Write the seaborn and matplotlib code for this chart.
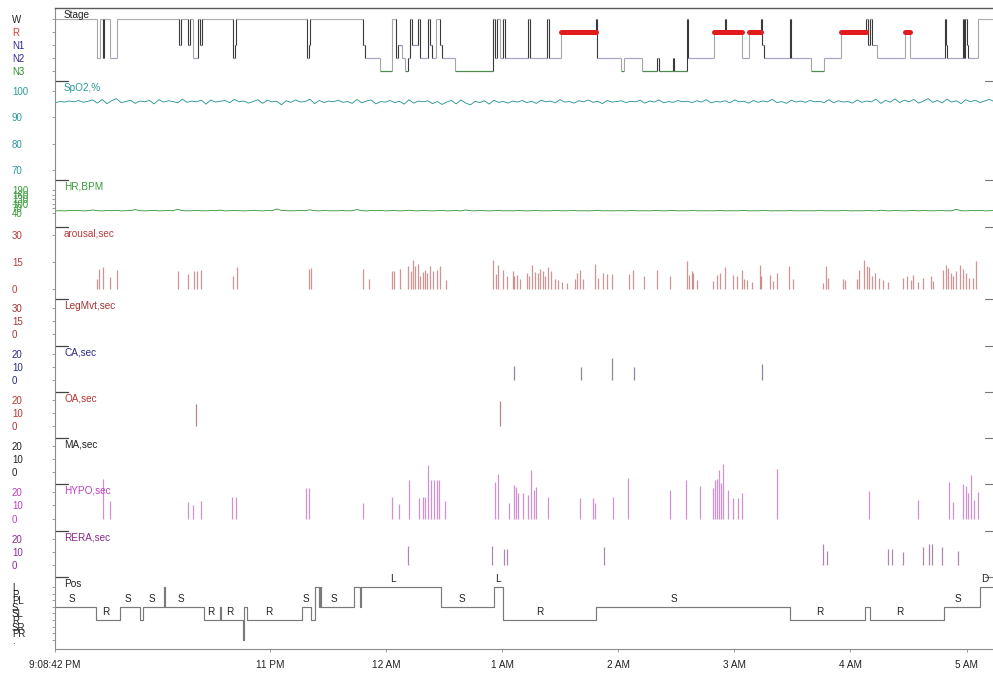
import numpy as np
import matplotlib
matplotlib.use("Agg")
import matplotlib.pyplot as plt
import seaborn as sns

# ---------------- time axis (minutes after lights-off, 9:08:42 PM) ----------------
START_H, START_M, START_S = 21, 8, 42
RECORD_END_MIN = 485.0
hour_clock = [23, 24, 25, 26, 27, 28, 29]          # 24 = midnight
hour_labels = ["11 PM", "12 AM", "1 AM", "2 AM", "3 AM", "4 AM", "5 AM"]
start_label = "9:08:42 PM"

# ---------------- hypnogram ----------------
stage_names = ["W", "R", "N1", "N2", "N3"]
stage_onset_min = [0, 21.7, 23.3, 24.8, 25.3, 28.4, 32.1, 64.1, 65.1, 68.8, 69.8, 71.3, 73.9,
                   75.0, 76.0, 92.0, 93.1, 93.6, 130.3, 131.3, 131.8, 159.2, 160.3, 168.0, 174.2,
                   176.3, 177.3, 179.4, 181.0, 182.5, 183.5, 184.6, 187.7, 188.7, 192.8, 193.9,
                   194.9, 197.0, 199.0, 200.1, 206.8, 226.4, 227.5, 228.5, 230.1, 231.6, 232.7,
                   244.5, 245.6, 254.4, 255.4, 261.6, 279.7, 280.2, 292.6, 294.2, 303.5, 311.2,
                   312.3, 319.5, 320.0, 326.7, 327.3, 340.7, 346.4, 346.9, 355.2, 358.8, 365.0,
                   365.5, 366.6, 380.0, 380.5, 390.9, 397.6, 406.4, 419.3, 420.3, 421.4, 422.4,
                   425.0, 439.5, 442.0, 460.1, 460.6, 461.2, 469.4, 469.9, 470.5, 471.5, 472.0,
                   477.2]
stage_seq = ["W", "N2", "W", "N2", "W", "N2", "W", "N1", "W", "N1", "W", "N2", "W",
             "N1", "W", "N2", "N1", "W", "N2", "N1", "W", "N1", "N2", "N3", "W",
             "N2", "N1", "N2", "N3", "N2", "W", "N1", "W", "N2", "W", "N1",
             "N2", "W", "N1", "N2", "N3", "W", "N2", "W", "N2", "W", "N2",
             "W", "N2", "W", "N2", "R", "W", "N2", "N3", "N2", "N3", "N2",
             "N3", "N2", "N3", "W", "N2", "R", "W", "R", "N2", "R", "W",
             "N1", "N2", "W", "N2", "N3", "N2", "R", "W", "N1", "W", "N1",
             "N2", "R", "N2", "W", "N1", "N2", "W", "N2", "W", "N1", "N2",
             "W"]

# ---------------- SpO2 (%) and heart rate (BPM), one sample every 2.44 min ----------------
TREND_STEP_MIN = 2.44
spo2 = [95.5, 96.0, 95.8, 96.2, 95.9, 96.4, 95.7, 96.1, 96.6, 95.4, 96.8, 95.2, 96.3, 97.1, 95.6, 96.0, 96.5, 95.3, 96.2, 95.9,
        96.4, 95.1, 96.7, 95.8, 96.3, 96.0, 95.5, 96.9, 95.7, 96.2, 95.9, 96.5, 95.0, 96.6, 95.8, 96.1, 96.4, 95.6, 96.8, 95.9,
        96.2, 95.4, 96.0, 96.7, 95.3, 96.5, 95.9, 96.1, 94.8, 96.3, 95.7, 96.6, 95.8, 96.0, 96.9, 95.2, 96.4, 95.6, 96.2, 95.9,
        96.5, 95.7, 96.0, 95.3, 96.8, 95.5, 96.2, 96.6, 95.1, 96.0, 95.8, 96.4, 95.6, 96.1, 95.0, 96.7, 95.4, 96.2, 95.9, 96.3,
        95.2, 96.0, 94.9, 95.8, 96.4, 95.1, 96.6, 95.5, 94.7, 96.1, 95.6, 96.3, 95.0, 96.5, 95.7, 96.0, 95.4, 96.2, 95.8, 96.4,
        95.6, 96.1, 95.3, 96.5, 95.9, 96.2, 95.5, 96.7, 95.8, 96.0, 95.4, 96.3, 95.9, 96.6, 95.7, 96.1, 95.2, 96.4, 95.8, 96.0,
        96.3, 95.6, 96.1, 95.9, 96.5, 95.4, 96.2, 95.8, 96.6, 95.5, 96.0, 95.7, 96.4, 95.9, 96.1, 95.6, 96.3, 95.8, 96.7, 95.5,
        96.0, 95.8, 96.3, 95.5, 96.6, 95.9, 96.1, 95.4, 96.4, 95.7, 96.2, 95.9, 96.8, 95.6, 96.0, 95.3, 96.5, 95.8, 96.2, 95.7,
        96.4, 95.9, 96.1, 95.6, 96.7, 95.5, 96.3, 95.8, 96.0, 95.4, 96.6, 95.7, 96.2, 95.9, 96.9, 95.3, 96.4, 95.8, 97.0, 95.6,
        96.5, 95.9, 96.8, 95.4, 96.2, 97.1, 95.7, 96.4, 95.5, 96.9, 95.8, 96.3, 95.2, 96.7, 95.9, 96.5, 95.6, 96.2, 96.8, 96.0]
heart_rate = [54, 55, 54, 56, 55, 57, 54, 55, 60, 55, 54, 56, 55, 58, 54, 55, 56, 62, 55, 54,
              55, 57, 54, 55, 56, 55, 64, 56, 54, 55, 57, 55, 54, 56, 55, 59, 54, 55, 56, 55,
              54, 55, 58, 55, 54, 56, 55, 66, 57, 55, 54, 55, 56, 55, 61, 55, 54, 56, 55, 54,
              55, 56, 54, 55, 63, 55, 54, 56, 55, 57, 54, 55, 56, 54, 55, 58, 55, 54, 56, 55,
              54, 55, 57, 54, 55, 56, 54, 60, 55, 54, 56, 55, 54, 55, 57, 54, 55, 54, 56, 55,
              54, 55, 56, 54, 55, 54, 57, 55, 54, 55, 56, 54, 55, 54, 55, 58, 54, 55, 54, 55,
              55, 54, 56, 55, 54, 55, 54, 56, 55, 54, 55, 57, 54, 55, 54, 56, 55, 54, 55, 54,
              55, 56, 54, 55, 54, 55, 57, 54, 55, 54, 56, 55, 54, 55, 54, 55, 56, 54, 55, 54,
              55, 54, 56, 55, 54, 55, 54, 56, 55, 54, 55, 54, 56, 55, 54, 58, 55, 54, 56, 55,
              54, 55, 57, 54, 56, 55, 54, 55, 56, 54, 55, 64, 55, 54, 56, 55, 57, 54, 55, 56]

# ---------------- scored events: onset (min) and duration (s) ----------------
arousal_onset = [21.7, 22.7, 24.8, 28.4, 32.1, 63.6, 68.8, 71.9, 73.4, 75.5, 92.0, 94.1, 131.3, 132.4,
                 159.2, 162.3, 174.2, 175.3, 178.4, 182.5, 184.1, 185.1, 186.1, 187.7, 188.7, 190.3,
                 191.3, 192.3, 193.9, 195.4, 197.5, 199.0, 202.1, 226.4, 228.0, 229.0, 231.6, 233.7,
                 236.8, 237.3, 238.9, 240.4, 244.0, 245.1, 246.6, 248.2, 249.7, 250.7, 252.3, 253.3,
                 254.9, 256.4, 258.5, 260.1, 262.1, 264.7, 268.8, 269.9, 271.4, 273.0, 279.2, 280.7,
                 283.3, 285.4, 288.0, 296.8, 298.8, 304.5, 311.2, 318.0, 326.7, 327.8, 329.3, 329.8,
                 331.9, 340.2, 342.3, 343.8, 346.4, 350.5, 352.6, 355.2, 356.2, 357.8, 360.3, 364.5,
                 365.0, 369.7, 371.2, 373.3, 379.5, 381.5, 397.1, 398.6, 399.6, 407.4, 408.4, 414.6,
                 415.7, 418.3, 419.8, 420.8, 422.4, 423.9, 426.0, 428.1, 430.7, 438.4, 440.5, 442.6,
                 443.6, 446.2, 448.8, 452.9, 453.9, 459.1, 460.6, 461.7, 463.2, 464.2, 465.8, 467.9,
                 469.4, 471.0, 472.5, 474.6, 476.2]
arousal_sec = [5.5, 11, 12, 6.7, 10.4, 10, 8.5, 10, 10, 10.7, 7, 12, 11, 11.7,
               11.1, 5.6, 9.8, 9.8, 11.1, 13, 9.8, 16.3, 12.6, 13.9, 7.0, 9.3,
               10.7, 8.9, 12.6, 9.8, 10.7, 13.0, 4.8, 16.3, 8.3, 13.5, 10.7, 7.4,
               9.8, 7.0, 7.9, 5.6, 8.9, 7.4, 13.5, 9.3, 8.9, 11.1, 9.8, 7.0,
               12.2, 9.8, 5.6, 5.2, 3.7, 3.3, 5.6, 8.9, 10.7, 5.6, 14.1, 6.1,
               8.9, 8.5, 8.5, 8.5, 10.7, 7.0, 10.7, 7.0, 15.4, 7.9, 9.8, 8.9,
               5.2, 4.3, 7.9, 8.9, 12.2, 7.9, 7.0, 10.7, 5.6, 5.2, 3.7, 13.5,
               7.0, 7.9, 4.3, 8.9, 13.0, 5.6, 3.3, 13.0, 6.1, 5.6, 5.2, 5.6,
               10.4, 16.3, 12.6, 12.2, 7.0, 8.9, 6.1, 5.2, 3.7, 6.1, 7.0, 5.2,
               8.0, 3.7, 6.1, 7.0, 4.3, 10.7, 13.5, 11.7, 8.9, 7.0, 9.8, 13.5,
               11.1, 8.9, 6.1, 6.1, 15.4]
legmvt_onset = []
legmvt_sec = []
ca_onset = [237.3, 272.0, 288.0, 299.3, 365.5]
ca_sec = [11, 10, 17, 10, 12]
oa_onset = [72.9, 230.1]
oa_sec = [17, 19]
ma_onset = []
ma_sec = []
hypo_onset = [24.8, 28.4, 68.8, 71.3, 75.5, 91.5, 93.6, 129.8, 131.3, 159.2, 174.2, 177.8, 183.0,
              188.2, 190.3, 191.3, 192.8, 194.4, 195.9, 197.5, 198.5, 201.6, 227.5, 229.0, 234.7,
              237.3, 238.3, 239.4, 241.9, 244.5, 246.1, 247.6, 248.7, 254.9, 271.4, 278.1, 279.2,
              288.5, 296.2, 318.0, 326.2, 333.5, 340.2, 341.2, 342.3, 343.3, 344.3, 345.4, 347.9,
              350.5, 353.1, 355.2, 373.3, 420.8, 446.2, 462.2, 464.3, 469.4, 471.0, 472.0, 473.6,
              475.1, 477.2]
hypo_sec = [30, 13, 12.6, 10, 13, 16, 16.5, 23, 23, 11.6, 16.5, 10.9, 28.9,
            15.8, 16.5, 16.5, 40.5, 28.9, 28.9, 28.9, 28.9, 13.3, 27.7, 33.8, 11.6,
            25.2, 24, 19, 19, 17.8, 36.3, 21.5, 24, 16.5, 15.3, 15.3, 11.6,
            16.5, 30.6, 21.5, 28.9, 24.7, 22.7, 28.9, 30, 36.3, 26.4, 41.2, 21.5,
            15.3, 15.3, 19, 37.5, 20.7, 14, 27.2, 12.8, 25.7, 24.7, 19, 32.6,
            14, 20.2]
rera_onset = [182.5, 225.9, 232.1, 233.7, 283.8, 397.1, 399.1, 430.7, 432.7, 438.4, 448.8, 451.9,
              453.4, 458.6, 466.8]
rera_sec = [14.8, 14.8, 12.3, 12.3, 13.6, 16, 11, 12.3, 12.3, 10, 13.6, 16, 16, 13.6, 11]

# ---------------- body position ----------------
pos_names = ["L", "P", "PL", "S", "SL", "R", "SR", "PR", "."]
pos_onset_min = [0, 21.2, 33.6, 43.9, 45.5, 56.4, 56.9, 77.0, 85.3, 85.8, 97.2, 97.7, 99.3, 127.7,
                 132.4, 134.4, 136.5, 137.0, 137.6, 154.6, 157.7, 158.2, 199.6, 227.0, 231.6,
                 279.7, 380.0, 418.8, 421.4, 459.6, 478.2]
pos_seq = ["S", "R", "S", "R", "S", "L", "S", "R", "S", "R", ".", "S", "R", "S",
           "R", "L", "S", "L", "S", "L", "S", "L", "S", "L", "R",
           "S", "R", "S", "R", "S", "D"]

# ---------------- styling ----------------
sns.set_theme(style="white")
plt.rcParams["font.family"] = ["Liberation Sans", "DejaVu Sans"]

FIG_W, FIG_H = 993, 675
AX_LEFT, AX_RIGHT = 55, 993
fig = plt.figure(figsize=(FIG_W / 100, FIG_H / 100), dpi=100)

TXT = "#222222"
SPINE = "#8c8c8c"
TICK_FS = 7.0
TITLE_FS = 7.2


def add_panel(top_px, bottom_px):
    rect = [AX_LEFT / FIG_W, 1 - bottom_px / FIG_H,
            (AX_RIGHT - AX_LEFT) / FIG_W, (bottom_px - top_px) / FIG_H]
    ax = fig.add_axes(rect)
    ax.set_facecolor("none")
    ax.set_xlim(0, RECORD_END_MIN)
    for side in ["top", "right", "bottom"]:
        ax.spines[side].set_visible(False)
    ax.spines["left"].set_color(SPINE)
    ax.spines["left"].set_linewidth(0.8)
    ax.tick_params(axis="x", bottom=False, labelbottom=False)
    ax.tick_params(axis="y", left=True, length=2.2, width=0.6, color=SPINE,
                   pad=28.8, labelsize=TICK_FS)
    ax.grid(False)
    return ax


def style_panel(ax, title, title_color, ticks, labels, label_colors, separator=True):
    ax.set_yticks(ticks)
    ax.set_yticklabels(labels)
    if isinstance(label_colors, str):
        label_colors = [label_colors] * len(ticks)
    for lbl, c in zip(ax.get_yticklabels(), label_colors):
        lbl.set_horizontalalignment("left")
        lbl.set_color(c)
    ax.annotate(title, xy=(0, 1), xycoords="axes fraction", xytext=(6.5, -5),
                textcoords="offset points", ha="left", va="center",
                fontsize=TITLE_FS, color=title_color)
    span = AX_RIGHT - AX_LEFT
    if separator:
        ax.plot([0, 13 / span], [1, 1], transform=ax.transAxes, color="#444444",
                lw=0.9, clip_on=False)
        ax.plot([1 - 8 / span, 1], [1, 1], transform=ax.transAxes, color="#777777",
                lw=0.8, clip_on=False)
    ax.set_xlabel("")
    ax.set_ylabel("")


def draw_events(ax, onsets, secs, color, alpha=0.6):
    if len(onsets):
        ax.vlines(onsets, 0, secs, colors=color, linewidth=0.9, alpha=alpha, clip_on=False)


# ---------------- Stage ----------------
ax = add_panel(8, 81)
ax.set_ylim(4.77, -0.85)
ax.spines["top"].set_visible(True)
ax.spines["top"].set_color("#5a5a5a")
ax.spines["top"].set_linewidth(1.0)
stage_level = {name: i for i, name in enumerate(stage_names)}
levels = [stage_level[s] for s in stage_seq]
ends = stage_onset_min[1:] + [RECORD_END_MIN]
seg_colors = {"W": "#b0b0b0", "R": "#9a9a9a", "N1": "#9090b8", "N2": "#a8a8c6", "N3": "#4f8a4f"}
for i, (t0, t1, lev, s) in enumerate(zip(stage_onset_min, ends, levels, stage_seq)):
    ax.hlines(lev, t0, t1, colors=seg_colors[s], linewidth=0.9)
    if i > 0:
        brief = (t1 - t0) < 1.2 or (stage_onset_min[i] - stage_onset_min[i - 1]) < 1.2
        ax.vlines(t0, levels[i - 1], lev, colors="#3a3a3a" if brief else "#a6a6a6",
                  linewidth=0.8)
for t0, t1, s in zip(stage_onset_min, ends, stage_seq):
    if s == "R":
        sns.lineplot(x=[t0, t1], y=[stage_level["R"]] * 2, ax=ax, color="#e21c1c",
                     linewidth=3.6, solid_capstyle="round", estimator=None, sort=False)
style_panel(ax, "Stage", TXT, list(range(5)), stage_names,
            [TXT, "#d23a3a", "#2a2a96", "#2a2a96", "#2f8a2f"], separator=False)

# ---------------- SpO2 ----------------
trend_t = np.arange(len(spo2)) * TREND_STEP_MIN
ax = add_panel(81, 180)
sns.lineplot(x=trend_t, y=spo2, ax=ax, color="#1f9090", linewidth=0.6,
             estimator=None, sort=False)
ax.set_ylim(66.2, 103.8)
style_panel(ax, "SpO2,%", "#2a9a9a", [70, 80, 90, 100], ["70", "80", "90", "100"], "#2a9a9a")

# ---------------- HR ----------------
ax = add_panel(180, 227)
sns.lineplot(x=np.arange(len(heart_rate)) * TREND_STEP_MIN, y=heart_rate, ax=ax,
             color="#2f8f2f", linewidth=0.6, estimator=None, sort=False)
ax.set_ylim(-51, 255)
hr_ticks = [40, 70, 100, 130, 160, 190]
style_panel(ax, "HR,BPM", "#3a9a3a", hr_ticks, [str(v) for v in hr_ticks], "#3a9a3a")

# ---------------- arousal ----------------
ax = add_panel(227, 299)
draw_events(ax, arousal_onset, arousal_sec, "#a83c3c", alpha=0.55)
ax.set_ylim(-5.6, 34.4)
style_panel(ax, "arousal,sec", "#b83c3c", [0, 15, 30], ["0", "15", "30"], "#b83c3c")

# ---------------- leg movements ----------------
ax = add_panel(299, 346)
draw_events(ax, legmvt_onset, legmvt_sec, "#a83c3c")
ax.set_ylim(-13.8, 40.4)
style_panel(ax, "LegMvt,sec", "#a03434", [0, 15, 30], ["0", "15", "30"], "#a03434")

# ---------------- respiratory events ----------------
resp_panels = [
    ("CA,sec", 346, 392, ca_onset, ca_sec, "#3a3a6a", "#2a2a8a"),
    ("OA,sec", 392, 438, oa_onset, oa_sec, "#8a3434", "#b83434"),
    ("MA,sec", 438, 484, ma_onset, ma_sec, "#333333", TXT),
    ("HYPO,sec", 484, 531, hypo_onset, hypo_sec, "#b04ab0", "#c040c0"),
    ("RERA,sec", 531, 577, rera_onset, rera_sec, "#6e3a6e", "#8a2a8a"),
]
for title, top, bottom, on, dur, bar_c, lab_c in resp_panels:
    ax = add_panel(top, bottom)
    draw_events(ax, on, dur, bar_c, alpha=0.6)
    ax.set_ylim(-9, 26)
    style_panel(ax, title, lab_c, [0, 10, 20], ["0", "10", "20"], lab_c)

# ---------------- body position ----------------
ax = add_panel(577, 649)
pos_level = {name: i for i, name in enumerate(pos_names)}
pos_level["D"] = pos_level["L"]        # upright/disconnected is drawn on the top row
p_levels = [pos_level[p] for p in pos_seq]
p_ends = pos_onset_min[1:] + [RECORD_END_MIN]
sns.lineplot(x=pos_onset_min + [RECORD_END_MIN], y=p_levels + [p_levels[-1]], ax=ax,
             color="#7a7a7a", linewidth=0.85, drawstyle="steps-post",
             estimator=None, sort=False)
for t0, t1, lev, p in zip(pos_onset_min, p_ends, p_levels, pos_seq):
    if t1 - t0 >= 4.0:
        ax.text(t0 + 0.4 * (t1 - t0), lev - 1.25, p, fontsize=7.2, color=TXT,
                ha="center", va="center", clip_on=False)
ax.set_ylim(9.36, -1.5)
style_panel(ax, "Pos", TXT, list(range(len(pos_names))), pos_names, TXT)

# time axis on the bottom panel
start_min = START_H * 60 + START_M + START_S / 60
tick_pos = [0] + [h * 60 - start_min for h in hour_clock]
ax.spines["bottom"].set_visible(True)
ax.spines["bottom"].set_color(SPINE)
ax.spines["bottom"].set_linewidth(0.8)
ax.set_xticks(tick_pos)
ax.set_xticklabels([start_label] + hour_labels)
ax.tick_params(axis="x", bottom=True, labelbottom=True, length=2.2, width=0.6,
               color=SPINE, pad=5.5, labelsize=7.2, labelcolor=TXT)
ax.set_xlim(0, RECORD_END_MIN)

fig.savefig("out.png", dpi=100)
